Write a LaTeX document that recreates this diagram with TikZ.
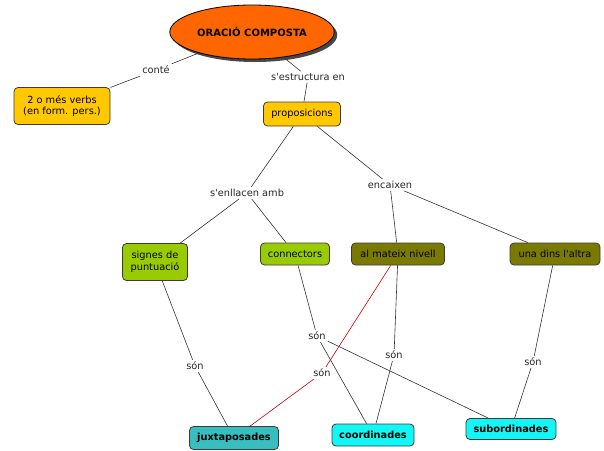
\documentclass[tikz,border=0pt]{standalone}
\usepackage{fontspec}
\setmainfont{DejaVu Sans}
\usetikzlibrary{shapes.geometric,shadows}
\definecolor{titleorange}{RGB}{255,102,0}
\definecolor{boxgold}{RGB}{255,200,0}
\definecolor{boxgreen}{RGB}{153,204,0}
\definecolor{boxolive}{RGB}{122,122,0}
\definecolor{boxteal}{RGB}{56,190,190}
\definecolor{boxcyan}{RGB}{20,245,245}
\definecolor{edgegray}{RGB}{60,60,60}
\newcommand{\apo}{\textquotesingle}
\tikzset{concept/.style={draw=edgegray,thick,rounded corners=4pt,align=center,
            inner sep=1pt,font=\fontsize{9.8}{11.5}\selectfont},
         linkword/.style={inner sep=2pt,font=\fontsize{9.8}{11.5}\selectfont,text=black!85},
         link/.style={draw=black!80,semithick}
}

\begin{document}
\begin{tikzpicture}[x=1pt,y=-1pt]
  \useasboundingbox (0,0) rectangle (604,450);
  % concepts
  \node[ellipse,draw=black,thick,fill=titleorange,minimum width=150,minimum height=54,
        drop shadow={shadow xshift=3pt,shadow yshift=-3pt,fill=black!80,opacity=.9},
        font=\fontsize{10}{12}\selectfont\bfseries] (oracio) at (252,32) {ORACIÓ COMPOSTA};
  \node[concept,fill=boxgold,minimum width=96,minimum height=37] (verbs) at (62,106) {2 o més verbs\\(en form. pers.)};
  \node[concept,fill=boxgold,minimum width=77,minimum height=24] (propos) at (302,114) {proposicions};
  \node[concept,fill=boxgreen,minimum width=65,minimum height=37] (signes) at (155,262) {signes de\\puntuació};
  \node[concept,fill=boxgreen,minimum width=69,minimum height=22] (connect) at (295,254) {connectors};
  \node[concept,fill=boxolive,minimum width=93,minimum height=22] (mateix) at (398,254) {al mateix nivell};
  \node[concept,fill=boxolive,minimum width=90,minimum height=22] (dins) at (555,254) {una dins l\apo altra};
  \node[concept,fill=boxteal,minimum width=89,minimum height=23,font=\fontsize{9.8}{11.5}\selectfont\bfseries] (juxta) at (234,438) {juxtaposades};
  \node[concept,fill=boxcyan,minimum width=82,minimum height=22,font=\fontsize{9.8}{11.5}\selectfont\bfseries] (coord) at (373,435) {coordinades};
  \node[concept,fill=boxcyan,minimum width=90,minimum height=21,font=\fontsize{9.8}{11.5}\selectfont\bfseries] (subord) at (511,429) {subordinades};
  % linking words
  \node[linkword] (conte) at (156,70) {conté};
  \node[linkword] (estruct) at (308,77) {s\apo estructura en};
  \node[linkword] (enllacen) at (247,193) {s\apo enllacen amb};
  \node[linkword] (encaixen) at (390,185) {encaixen};
  \node[linkword] (sonA) at (195,366) {són};
  \node[linkword] (sonB) at (317,336) {són};
  \node[linkword] (sonC) at (322,373) {són};
  \node[linkword] (sonD) at (394,355) {són};
  \node[linkword] (sonE) at (533,362) {són};
  % connections
  \draw[link] (oracio) -- (conte) -- (verbs);
  \draw[link] (oracio) -- (estruct) -- (propos);
  \draw[link] (propos) -- (enllacen);
  \draw[link] (enllacen) -- (signes);
  \draw[link] (enllacen) -- (connect);
  \draw[link] (propos) -- (encaixen);
  \draw[link] (encaixen) -- (mateix);
  \draw[link] (encaixen) -- (dins);
  \draw[link] (signes) -- (sonA) -- (juxta);
  \draw[link] (connect) -- (sonB);
  \draw[link] (sonB) -- (coord);
  \draw[link] (sonB) -- (subord);
  \draw[link] (mateix) -- (sonD) -- (coord);
  \draw[link,draw=red!80!black] (mateix) -- (sonC) -- (juxta);
  \draw[link] (dins) -- (sonE) -- (subord);
\end{tikzpicture}
\end{document}
